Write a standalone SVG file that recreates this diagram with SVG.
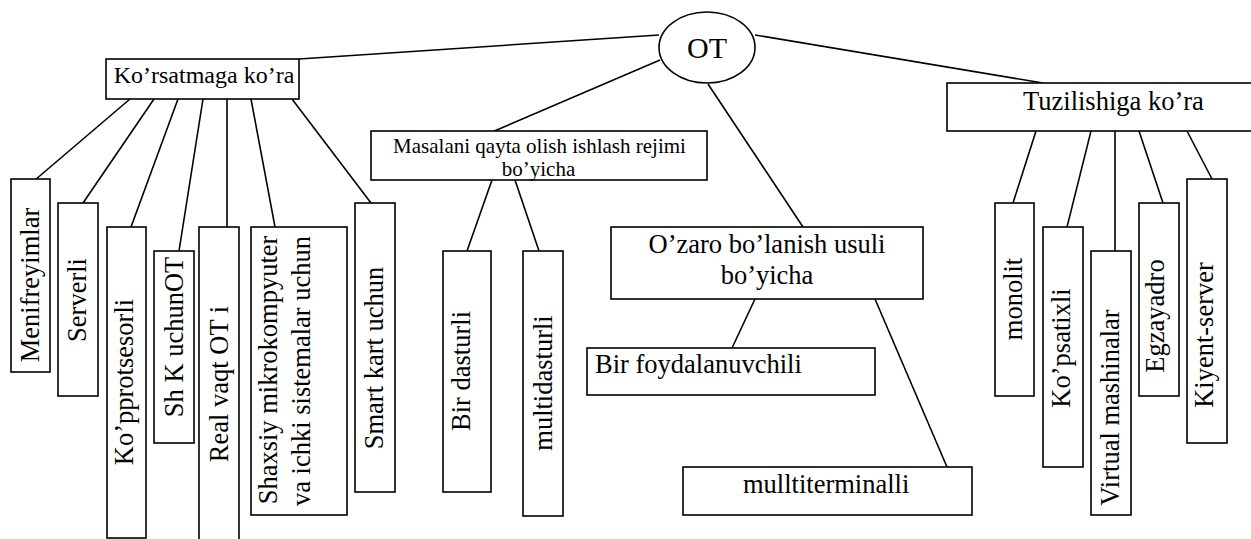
<svg xmlns="http://www.w3.org/2000/svg" width="1251" height="539" viewBox="0 0 1251 539" font-family="'Liberation Serif', 'Times New Roman', serif">
<style>
.b{fill:#fff;stroke:#000;stroke-width:1.6}
.c line{stroke:#000;stroke-width:1.6}
text{font-family:'Liberation Serif','Times New Roman',serif;fill:#000;font-size:26.5px}
.m{text-anchor:middle}
</style>
<rect width="1251" height="539" fill="#fff"/>
<g class="c" id="connectors">
<line x1="659" y1="35" x2="299" y2="59"/>
<line x1="660" y1="60" x2="492" y2="132"/>
<line x1="708" y1="84" x2="803" y2="227"/>
<line x1="755" y1="35" x2="1043" y2="83"/>
<line x1="130" y1="99" x2="35" y2="180"/>
<line x1="154" y1="99" x2="83" y2="203"/>
<line x1="178" y1="99" x2="131" y2="227"/>
<line x1="203" y1="99" x2="179" y2="251"/>
<line x1="227" y1="99" x2="227" y2="227"/>
<line x1="251" y1="99" x2="275" y2="227"/>
<line x1="292" y1="99" x2="371" y2="203"/>
<line x1="492" y1="180" x2="467" y2="251"/>
<line x1="515" y1="180" x2="539" y2="251"/>
<line x1="755" y1="299" x2="732" y2="348"/>
<line x1="875" y1="299" x2="947" y2="467"/>
<line x1="1036" y1="131" x2="1013" y2="203"/>
<line x1="1091" y1="131" x2="1067" y2="227"/>
<line x1="1115" y1="131" x2="1115" y2="251"/>
<line x1="1139" y1="131" x2="1163" y2="203"/>
<line x1="1187" y1="131" x2="1212" y2="179"/>
</g>
<g id="ot"><ellipse class="b" cx="707" cy="47.5" rx="48" ry="35.5"/><text class="m" x="707" y="58" style="font-size:30px">OT</text></g>
<g id="korsatmaga"><rect class="b" x="106" y="59" width="193" height="40"/><text class="m" x="204" y="83" style="font-size:24px">Ko’rsatmaga ko’ra</text></g>
<g id="masalani"><rect class="b" x="371" y="131" width="336" height="49"/><text class="m" x="539.5" y="153" style="font-size:21px">Masalani qayta olish ishlash rejimi</text><text class="m" x="538.5" y="176" style="font-size:21px">bo’yicha</text></g>
<g id="tuzilishiga"><rect class="b" x="947" y="83" width="320" height="48"/><text x="1023" y="110">Tuzilishiga ko’ra</text></g>
<g id="ozaro"><rect class="b" x="611" y="227" width="312" height="72"/><text class="m" x="767" y="253">O’zaro bo’lanish usuli</text><text class="m" x="767" y="284">bo’yicha</text></g>
<g id="birfoyd"><rect class="b" x="587" y="348" width="288" height="47"/><text x="595" y="373">Bir foydalanuvchili</text></g>
<g id="multiterm"><rect class="b" x="683" y="467" width="289" height="48"/><text x="743" y="493">mulltiterminalli</text></g>
<g id="menifreyimlar"><rect class="b" x="11" y="179" width="39" height="193"/><text class="m" transform="translate(39,285) rotate(-90)">Menifreyimlar</text></g>
<g id="serverli"><rect class="b" x="58" y="203" width="40" height="193"/><text class="m" transform="translate(86,300) rotate(-90)">Serverli</text></g>
<g id="kopprotsesorli"><rect class="b" x="107" y="227" width="39" height="311"/><text class="m" transform="translate(133,382) rotate(-90)">Ko’pprotsesorli</text></g>
<g id="shk"><rect class="b" x="154" y="251" width="40" height="192"/><text class="m" transform="translate(183,337) rotate(-90)">Sh K uchunOT</text></g>
<g id="realvaqt"><rect class="b" x="199" y="227" width="40" height="330"/><text class="m" transform="translate(228,384) rotate(-90)">Real vaqt OT i</text></g>
<g id="shaxsiy"><rect class="b" x="251" y="227" width="96" height="288"/><text class="m" transform="translate(277,370) rotate(-90)">Shaxsiy mikrokompyuter</text><text class="m" transform="translate(310,371) rotate(-90)">va ichki sistemalar uchun</text></g>
<g id="smartkart"><rect class="b" x="355" y="203" width="40" height="289"/><text class="m" transform="translate(383,358) rotate(-90)">Smart kart uchun</text></g>
<g id="birdasturli"><rect class="b" x="443" y="251" width="48" height="241"/><text class="m" transform="translate(470,371) rotate(-90)">Bir dasturli</text></g>
<g id="multidasturli"><rect class="b" x="523" y="251" width="40" height="265"/><text class="m" transform="translate(552,383) rotate(-90)">multidasturli</text></g>
<g id="monolit"><rect class="b" x="995" y="203" width="39" height="193"/><text class="m" transform="translate(1022,299) rotate(-90)">monolit</text></g>
<g id="kopsatixli"><rect class="b" x="1043" y="227" width="40" height="240"/><text class="m" transform="translate(1070,348) rotate(-90)">Ko’psatixli</text></g>
<g id="virtual"><rect class="b" x="1091" y="251" width="40" height="264"/><text class="m" transform="translate(1119,407.5) rotate(-90)">Virtual mashinalar</text></g>
<g id="egzayadro"><rect class="b" x="1139" y="203" width="40" height="193"/><text class="m" transform="translate(1164,316) rotate(-90)">Egzayadro</text></g>
<g id="kiyent"><rect class="b" x="1187" y="179" width="40" height="264"/><text class="m" transform="translate(1213,335) rotate(-90)">Kiyent-server</text></g>
</svg>
